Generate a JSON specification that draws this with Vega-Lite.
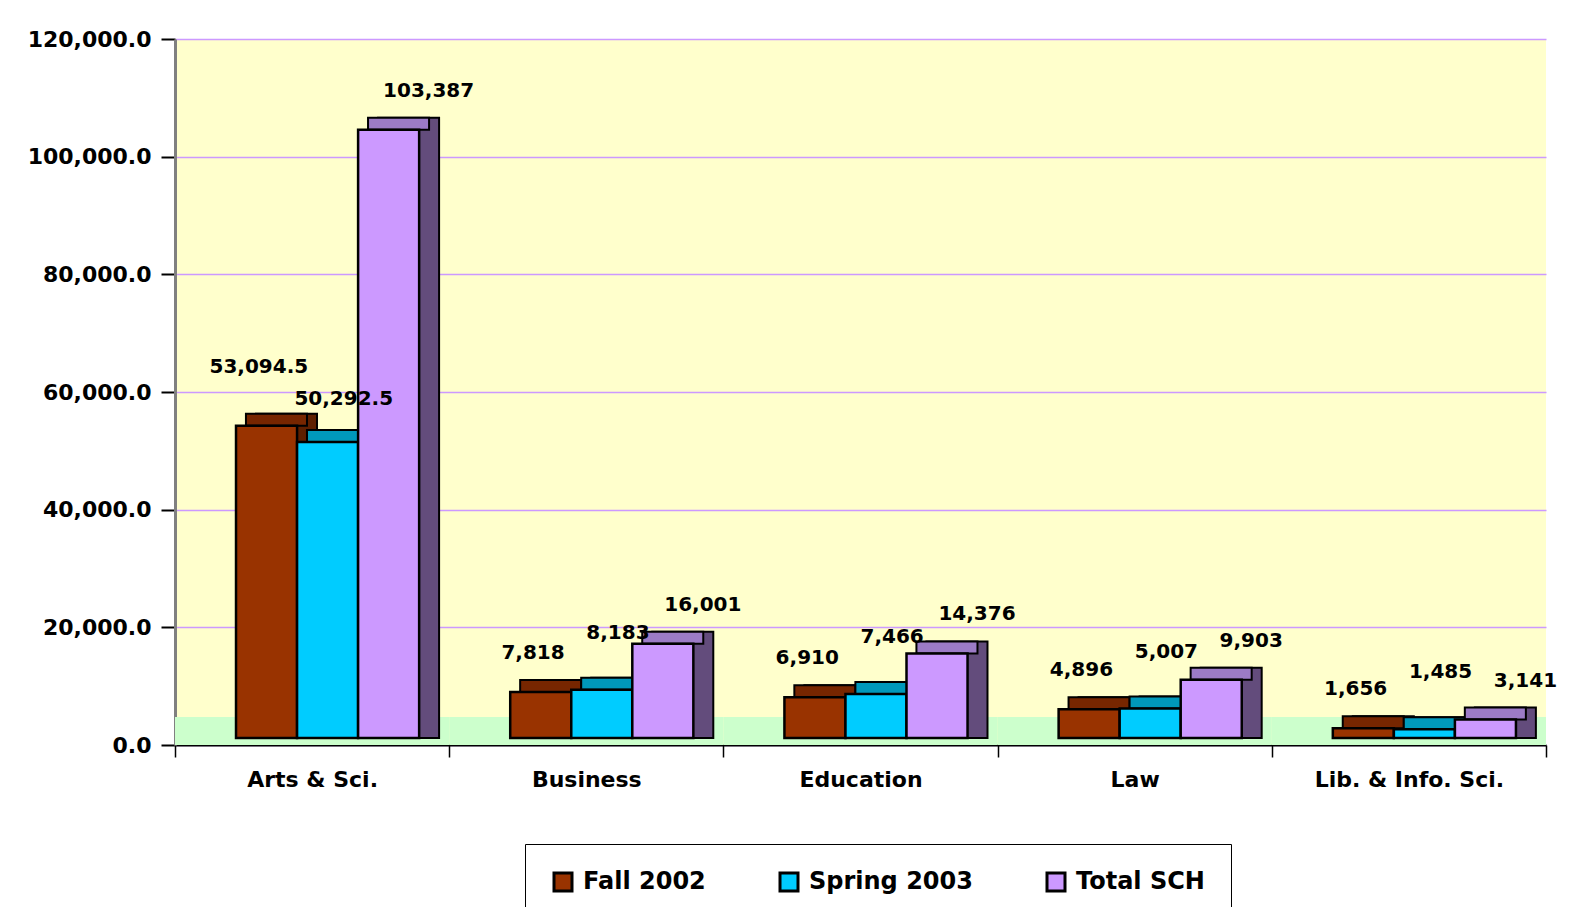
{
  "$schema": "https://vega.github.io/schema/vega-lite/v6.json",
  "width": 1371,
  "height": 706,
  "autosize": "none",
  "padding": {"left": 175, "top": 39, "right": 47, "bottom": 162},
  "background": "white",
  "config": {"font": "DejaVu Sans", "view": {"fill": "#FFFFCC", "stroke": null}},
  "data": {
    "values": [
      {"college": "Arts & Sci.", "series": "Fall 2002", "value": 53094.5, "label": "53,094.5"},
      {"college": "Arts & Sci.", "series": "Spring 2003", "value": 50292.5, "label": "50,292.5"},
      {"college": "Arts & Sci.", "series": "Total SCH", "value": 103387, "label": "103,387"},
      {"college": "Business", "series": "Fall 2002", "value": 7818, "label": "7,818"},
      {"college": "Business", "series": "Spring 2003", "value": 8183, "label": "8,183"},
      {"college": "Business", "series": "Total SCH", "value": 16001, "label": "16,001"},
      {"college": "Education", "series": "Fall 2002", "value": 6910, "label": "6,910"},
      {"college": "Education", "series": "Spring 2003", "value": 7466, "label": "7,466"},
      {"college": "Education", "series": "Total SCH", "value": 14376, "label": "14,376"},
      {"college": "Law", "series": "Fall 2002", "value": 4896, "label": "4,896"},
      {"college": "Law", "series": "Spring 2003", "value": 5007, "label": "5,007"},
      {"college": "Law", "series": "Total SCH", "value": 9903, "label": "9,903"},
      {"college": "Lib. & Info. Sci.", "series": "Fall 2002", "value": 1656, "label": "1,656"},
      {"college": "Lib. & Info. Sci.", "series": "Spring 2003", "value": 1485, "label": "1,485"},
      {"college": "Lib. & Info. Sci.", "series": "Total SCH", "value": 3141, "label": "3,141"}
    ]
  },
  "encoding": {
    "x": {
      "field": "college", "type": "nominal",
      "sort": ["Arts & Sci.", "Business", "Education", "Law", "Lib. & Info. Sci."],
      "scale": {"paddingInner": 0, "paddingOuter": 0},
      "axis": {
        "title": null, "labelAngle": 0, "labelFontSize": 22, "labelFontWeight": "bold", "labelLimit": 0,
        "labelColor": "black", "tickBand": "extent", "tickSize": 12, "tickColor": "black",
        "tickWidth": 1.5, "domainColor": "black", "domainWidth": 2, "labelPadding": 12, "grid": false
      }
    },
    "y": {
      "field": "value", "type": "quantitative",
      "scale": {"domain": [0, 120000], "nice": false},
      "axis": {
        "title": null, "values": [0, 20000, 40000, 60000, 80000, 100000, 120000],
        "format": ",.1f", "labelFontSize": 22, "labelFontWeight": "bold", "labelColor": "black",
        "tickSize": 14, "tickColor": "black", "tickWidth": 2, "domainColor": "#808080",
        "domainWidth": 3, "labelPadding": 10, "grid": true, "gridColor": "#CC99FF", "gridWidth": 1.5
      }
    }
  },
  "layer": [
    {
      "transform": [{"filter": "datum.series === 'Fall 2002'"}],
      "mark": {"type": "bar", "color": "#CCFFCC", "yOffset": -28},
      "encoding": {"y": {"datum": 0}, "y2": {"datum": 0}}
    },
    {
      "mark": {"type": "bar", "stroke": "black", "strokeWidth": 2, "yOffset": -19, "y2Offset": -7},
      "encoding": {
        "xOffset": {
          "field": "series", "type": "nominal", "sort": ["Fall 2002", "Spring 2003", "Total SCH"],
          "scale": {"paddingInner": 0, "paddingOuter": 0.746, "align": 0.889}
        },
        "y2": {"datum": 0},
        "color": {
          "field": "series", "type": "nominal", "legend": null,
          "scale": {"domain": ["Fall 2002", "Spring 2003", "Total SCH"], "range": ["#5E1F00", "#007FA0", "#634C7C"]}
        }
      }
    },
    {
      "mark": {"type": "bar", "stroke": "black", "strokeWidth": 2, "yOffset": -19, "y2Offset": -7},
      "encoding": {
        "xOffset": {
          "field": "series", "type": "nominal", "sort": ["Fall 2002", "Spring 2003", "Total SCH"],
          "scale": {"paddingInner": 0, "paddingOuter": 0.746, "align": 0.779}
        },
        "y2": {"field": "value"},
        "color": {
          "field": "series", "type": "nominal", "legend": null,
          "scale": {"domain": ["Fall 2002", "Spring 2003", "Total SCH"], "range": ["#772600", "#0099BB", "#9C7BC6"]}
        }
      }
    },
    {
      "mark": {"type": "bar", "stroke": "black", "strokeWidth": 2.5, "yOffset": -7, "y2Offset": -7},
      "encoding": {
        "xOffset": {
          "field": "series", "type": "nominal", "sort": ["Fall 2002", "Spring 2003", "Total SCH"],
          "scale": {"paddingInner": 0, "paddingOuter": 0.746, "align": 0.67}
        },
        "y2": {"datum": 0},
        "color": {
          "field": "series", "type": "nominal",
          "scale": {"domain": ["Fall 2002", "Spring 2003", "Total SCH"], "range": ["#993300", "#00CCFF", "#CC99FF"]},
          "legend": {
            "orient": "none", "legendX": 350, "legendY": 805, "direction": "horizontal", "title": null,
            "symbolType": "square", "symbolSize": 324, "symbolStrokeColor": "black", "symbolStrokeWidth": 3,
            "labelFontSize": 24, "labelFontWeight": "bold", "labelColor": "black", "labelLimit": 400,
            "strokeColor": "black", "fillColor": "white", "padding": 26, "columnPadding": 68, "labelOffset": 8
          }
        }
      }
    },
    {
      "transform": [{"filter": "datum.series === 'Fall 2002' && datum.college !== 'Arts & Sci.'"}],
      "mark": {"type": "text", "fontSize": 20, "fontWeight": "bold", "color": "black", "baseline": "middle", "dy": -46},
      "encoding": {
        "xOffset": {
          "field": "series", "type": "nominal",
          "scale": {"domain": ["Fall 2002", "Spring 2003", "Total SCH"], "paddingInner": 0.5, "paddingOuter": 0.615, "align": 0.803}
        },
        "text": {"field": "label"}
      }
    },
    {
      "transform": [{"filter": "datum.series === 'Fall 2002' && datum.college === 'Arts & Sci.'"}],
      "mark": {"type": "text", "fontSize": 20, "fontWeight": "bold", "color": "black", "baseline": "middle", "dy": -66},
      "encoding": {
        "xOffset": {
          "field": "series", "type": "nominal",
          "scale": {"domain": ["Fall 2002", "Spring 2003", "Total SCH"], "paddingInner": 0.5, "paddingOuter": 0.615, "align": 0.803}
        },
        "text": {"field": "label"}
      }
    },
    {
      "transform": [{"filter": "datum.series === 'Spring 2003' && datum.college !== 'Arts & Sci.'"}],
      "mark": {"type": "text", "fontSize": 20, "fontWeight": "bold", "color": "black", "baseline": "middle", "dy": -64},
      "encoding": {
        "xOffset": {
          "field": "series", "type": "nominal",
          "scale": {"domain": ["Fall 2002", "Spring 2003", "Total SCH"], "paddingInner": 0.5, "paddingOuter": 0.615, "align": 0.803}
        },
        "text": {"field": "label"}
      }
    },
    {
      "transform": [{"filter": "datum.series === 'Spring 2003' && datum.college === 'Arts & Sci.'"}],
      "mark": {"type": "text", "fontSize": 20, "fontWeight": "bold", "color": "black", "baseline": "middle", "dy": -50},
      "encoding": {
        "xOffset": {
          "field": "series", "type": "nominal",
          "scale": {"domain": ["Fall 2002", "Spring 2003", "Total SCH"], "paddingInner": 0.5, "paddingOuter": 0.615, "align": 0.803}
        },
        "text": {"field": "label"}
      }
    },
    {
      "transform": [{"filter": "datum.series === 'Total SCH'"}],
      "mark": {"type": "text", "fontSize": 20, "fontWeight": "bold", "color": "black", "baseline": "middle", "dy": -46},
      "encoding": {
        "xOffset": {
          "field": "series", "type": "nominal",
          "scale": {"domain": ["Fall 2002", "Spring 2003", "Total SCH"], "paddingInner": 0.5, "paddingOuter": 0.615, "align": 0.803}
        },
        "text": {"field": "label"}
      }
    }
  ],
  "resolve": {"scale": {"color": "independent", "xOffset": "independent"}}
}
